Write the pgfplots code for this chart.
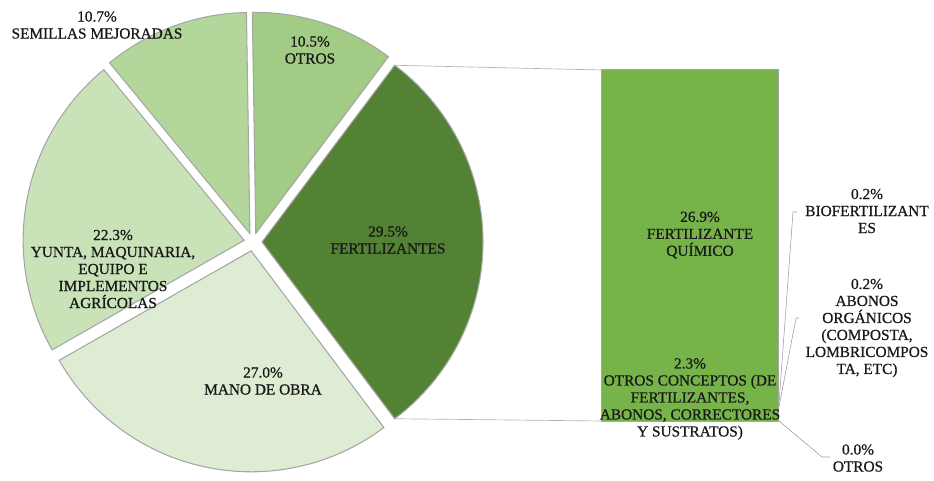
\documentclass[border=0pt]{standalone}
\usepackage{fontspec}
\setmainfont{Liberation Serif}
\newfontfamily\lblfont{Liberation Serif}[FakeBold=0.7]
\usepackage{pgfplots}
\usepackage{pgfplotstable}
\pgfplotsset{compat=1.18}
\definecolor{cFert}{HTML}{548235}
\definecolor{cMano}{HTML}{DDECD3}
\definecolor{cYunta}{HTML}{C9E2B8}
\definecolor{cSem}{HTML}{B3D69B}
\definecolor{cOtros}{HTML}{A2CB86}
\definecolor{cBar}{HTML}{76B44A}
\pgfplotstableread{
name value
fert 29.5
mano 27.0
yunta 22.3
semillas 10.7
otros 10.5
}\pietable
\newcommand\slicedef[2]{%
 \pgfplotstablegetelem{#1}{value}\of\pietable
 \pgfmathsetmacro\tmpE{\cur-3.6*\pgfplotsretval}%
 \pgfmathsetmacro\tmpM{(\cur+\tmpE)/2}%
 \pgfmathsetmacro\tmpX{\pcx+\pd*cos(\tmpM)}%
 \pgfmathsetmacro\tmpY{\pcy+\pd*sin(\tmpM)}%
 \expandafter\xdef\csname s#2\endcsname{\cur}%
 \expandafter\xdef\csname e#2\endcsname{\tmpE}%
 \expandafter\xdef\csname x#2\endcsname{\tmpX}%
 \expandafter\xdef\csname y#2\endcsname{\tmpY}%
 \xdef\cur{\tmpE}}
\begin{document}
\begin{tikzpicture}[lbl/.style={font=\lblfont\fontsize{11.5}{12.75}\selectfont, align=center, text=black!90, inner sep=0pt}]
\def\pcx{253}\def\pcy{239}\def\pr{221}\def\pd{9}%
\pgfplotstablegetelem{0}{value}\of\pietable
\pgfmathsetmacro\tmpC{1.8*\pgfplotsretval}%
\xdef\cur{\tmpC}%
\slicedef{0}{A}\slicedef{1}{B}\slicedef{2}{C}\slicedef{3}{D}\slicedef{4}{E}%
\pgfmathsetmacro\ftx{\xA+\pr*cos(\sA)}%
\pgfmathsetmacro\fty{\yA+\pr*sin(\sA)}%
\pgfmathsetmacro\fbx{\xA+\pr*cos(\eA)}%
\pgfmathsetmacro\fby{\yA+\pr*sin(\eA)}%
\begin{axis}[name=pie, scale only axis, width=700.5pt, height=360.75pt,
  xmin=0, xmax=934, ymin=0, ymax=481, hide axis, clip=false]
\addplot[fill=cFert, draw=black!35, line width=0.8pt, domain=\eA:\sA, samples=80, variable=\t]
  ({\xA+\pr*cos(\t)}, {\yA+\pr*sin(\t)}) -- (axis cs:\xA,\yA) -- cycle;
\addplot[fill=cMano, draw=black!35, line width=0.8pt, domain=\eB:\sB, samples=80, variable=\t]
  ({\xB+\pr*cos(\t)}, {\yB+\pr*sin(\t)}) -- (axis cs:\xB,\yB) -- cycle;
\addplot[fill=cYunta, draw=black!35, line width=0.8pt, domain=\eC:\sC, samples=80, variable=\t]
  ({\xC+\pr*cos(\t)}, {\yC+\pr*sin(\t)}) -- (axis cs:\xC,\yC) -- cycle;
\addplot[fill=cSem, draw=black!35, line width=0.8pt, domain=\eD:\sD, samples=60, variable=\t]
  ({\xD+\pr*cos(\t)}, {\yD+\pr*sin(\t)}) -- (axis cs:\xD,\yD) -- cycle;
\addplot[fill=cOtros, draw=black!35, line width=0.8pt, domain=\eE:\sE, samples=60, variable=\t]
  ({\xE+\pr*cos(\t)}, {\yE+\pr*sin(\t)}) -- (axis cs:\xE,\yE) -- cycle;
\coordinate (fertTop) at (axis cs:\ftx,\fty);
\coordinate (fertBot) at (axis cs:\fbx,\fby);
\coordinate (ll) at (axis cs:0,0);
\coordinate (ur) at (axis cs:934,481);
\coordinate (lQ) at (axis cs:700,246);
\coordinate (lC) at (axis cs:690,82);
% pie labels
\node[lbl] at (axis cs:97,456) {10.7\%\\SEMILLAS MEJORADAS};
\node[lbl] at (axis cs:310,431) {10.5\%\\OTROS};
\node[lbl] at (axis cs:388,241) {29.5\%\\FERTILIZANTES};
\node[lbl] at (axis cs:113,212) {22.3\%\\YUNTA, MAQUINARIA,\\EQUIPO E\\IMPLEMENTOS\\AGRÍCOLAS};
\node[lbl] at (axis cs:263,100) {27.0\%\\MANO DE OBRA};
% outside bar labels
\node[lbl] at (axis cs:867,270) {0.2\%\\BIOFERTILIZANT\\ES};
\node[lbl] at (axis cs:867,153) {0.2\%\\ABONOS\\ORGÁNICOS\\(COMPOSTA,\\LOMBRICOMPOS\\TA, ETC)};
\node[lbl] at (axis cs:858,23) {0.0\%\\OTROS};
% leader lines
\draw[black!40, line width=0.4pt] (axis cs:797,269) -- (axis cs:793,269) -- (axis cs:779,78);
\draw[black!40, line width=0.4pt] (axis cs:799,163) -- (axis cs:796,163) -- (axis cs:778,69);
\draw[black!40, line width=0.4pt] (axis cs:779,60) -- (axis cs:822,24) -- (axis cs:830,24);
\end{axis}
\begin{axis}[name=bar, at={(451.5pt,45pt)}, anchor=south west, scale only axis,
  width=132pt, height=263.25pt, xmin=0.5, xmax=1.5, ymin=0, ymax=29.6,
  hide axis, ybar stacked, bar width=132pt, clip=false]
\addplot[fill=cBar, draw=none] coordinates {(1,0.0)};
\addplot[fill=cBar, draw=none] coordinates {(1,0.2)};
\addplot[fill=cBar, draw=none] coordinates {(1,0.2)};
\addplot[fill=cBar, draw=none] coordinates {(1,2.3)};
\addplot[fill=cBar, draw=none] coordinates {(1,26.9)};
\draw[white!85!cBar, line width=1.2pt] (axis cs:0.52,2.9) -- (axis cs:1.48,2.9);
\draw[black!35, line width=0.8pt] (axis cs:0.5,0) rectangle (axis cs:1.5,29.6);
\coordinate (barTL) at (axis cs:0.5,29.6);
\coordinate (barBL) at (axis cs:0.5,0);
\end{axis}
\draw[black!30, line width=0.5pt] (fertTop) -- (barTL);
\draw[black!30, line width=0.5pt] (fertBot) -- (barBL);
\node[lbl] at (lQ) {26.9\%\\FERTILIZANTE\\QUÍMICO};
\node[lbl] at (lC) {2.3\%\\OTROS CONCEPTOS (DE\\FERTILIZANTES,\\ABONOS, CORRECTORES\\Y SUSTRATOS)};
\pgfresetboundingbox
\path (ll) rectangle (ur);
\end{tikzpicture}
\end{document}
